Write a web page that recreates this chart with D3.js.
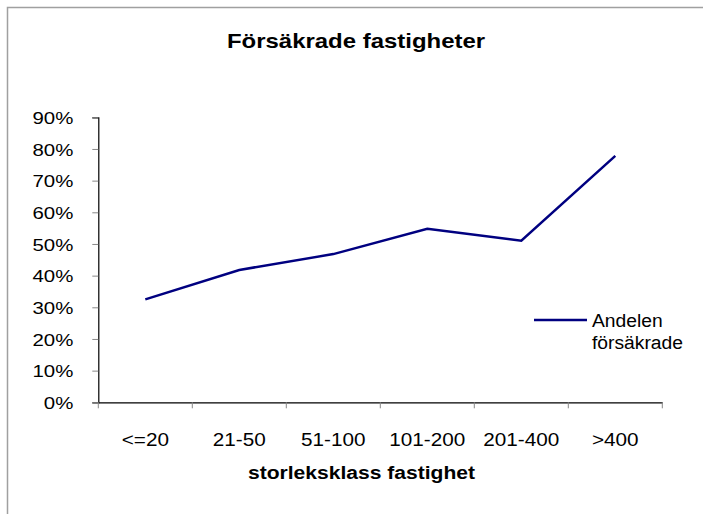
<!DOCTYPE html>
<html>
<head>
<meta charset="utf-8">
<script src="https://cdn.jsdelivr.net/npm/d3@7"></script>
<style>
  body { margin: 0; background: #fff; }
  text { font-family: "Liberation Sans", Arial, sans-serif; fill: #000; }
</style>
</head>
<body>
<svg id="chart"></svg>
<script>
// Data
var categories = ["<=20", "21-50", "51-100", "101-200", "201-400", ">400"];
var shares = [0.325, 0.418, 0.468, 0.548, 0.51, 0.778];
var yTicks = [0, 0.1, 0.2, 0.3, 0.4, 0.5, 0.6, 0.7, 0.8, 0.9];
var seriesName = ["Andelen", "försäkrade"];

// Size params
var W = 703, H = 514;
var margin = {top: 117.3, left: 98.3, right: 703 - 662.3, bottom: 514 - 402.3};
var width = W - margin.left - margin.right;
var height = H - margin.top - margin.bottom;

// text in the original is a bit wider than Liberation Sans
function stretch(sel, k) {
  sel.each(function() {
    var len = this.getComputedTextLength();
    d3.select(this)
      .attr("textLength", len * k)
      .attr("lengthAdjust", "spacingAndGlyphs");
  });
}

var svg = d3.select("#chart")
    .attr("width", W)
    .attr("height", H);

// Chart area border (only top and left visible)
svg.append("rect")
    .attr("x", 7.5)
    .attr("y", 7.5)
    .attr("width", W + 20)
    .attr("height", H + 20)
    .attr("fill", "#fff")
    .attr("stroke", "#a0a0a0")
    .attr("stroke-width", 1.5);

// Title
svg.append("text")
    .attr("x", 356)
    .attr("y", 48)
    .attr("text-anchor", "middle")
    .style("font-size", "21px")
    .style("font-weight", "bold")
    .text("Försäkrade fastigheter")
    .call(stretch, 1.14);

var g = svg.append("g")
    .attr("transform", "translate(" + margin.left + "," + margin.top + ")");

// Scales
var x = d3.scaleBand().domain(categories).range([0, width]);
var y = d3.scaleLinear().domain([0, 0.9]).range([height, 0]);

// Y axis
var yAxis = g.append("g")
    .call(d3.axisLeft(y)
      .tickValues(yTicks)
      .tickFormat(d3.format(".0%"))
      .tickSize(6)
      .tickPadding(19));
yAxis.select(".domain").attr("stroke", "#000").attr("stroke-width", 1.2);
yAxis.selectAll(".tick line").attr("stroke", "#888");
yAxis.selectAll(".tick text")
    .style("font-size", "17px")
    .attr("dy", "0.36em")
    .call(stretch, 1.2);

// X axis with ticks at band boundaries
var xAxis = g.append("g")
    .attr("transform", "translate(0," + height + ")")
    .call(d3.axisBottom(x).tickSize(0).tickPadding(31));
xAxis.select(".domain").attr("stroke", "#000").attr("stroke-width", 1.2);
xAxis.selectAll(".tick text")
    .style("font-size", "18px")
    .call(stretch, 1.15);

var bounds = categories.map(function(c) { return x(c); }).concat([width]);
g.append("g").selectAll("line")
    .data(bounds)
  .enter().append("line")
    .attr("x1", function(d) { return d; })
    .attr("x2", function(d) { return d; })
    .attr("y1", height)
    .attr("y2", height + 6)
    .attr("stroke", "#888");

// Axis title
svg.append("text")
    .attr("x", 361.5)
    .attr("y", 479)
    .attr("text-anchor", "middle")
    .style("font-size", "18px")
    .style("font-weight", "bold")
    .text("storleksklass fastighet")
    .call(stretch, 1.17);

// Line
var line = d3.line()
    .x(function(d, i) { return x(categories[i]) + x.bandwidth() / 2; })
    .y(function(d) { return y(d); });

g.append("path")
    .datum(shares)
    .attr("fill", "none")
    .attr("stroke", "#000080")
    .attr("stroke-width", 2.5)
    .attr("d", line);

// Legend
var legend = svg.append("g");
legend.append("line")
    .attr("x1", 534)
    .attr("x2", 587)
    .attr("y1", 320)
    .attr("y2", 320)
    .attr("stroke", "#000080")
    .attr("stroke-width", 2.5);
legend.selectAll("text")
    .data(seriesName)
  .enter().append("text")
    .attr("x", 592)
    .attr("y", function(d, i) { return 327 + i * 22; })
    .style("font-size", "18px")
    .text(function(d) { return d; })
    .call(stretch, 1.07);
</script>
</body>
</html>
